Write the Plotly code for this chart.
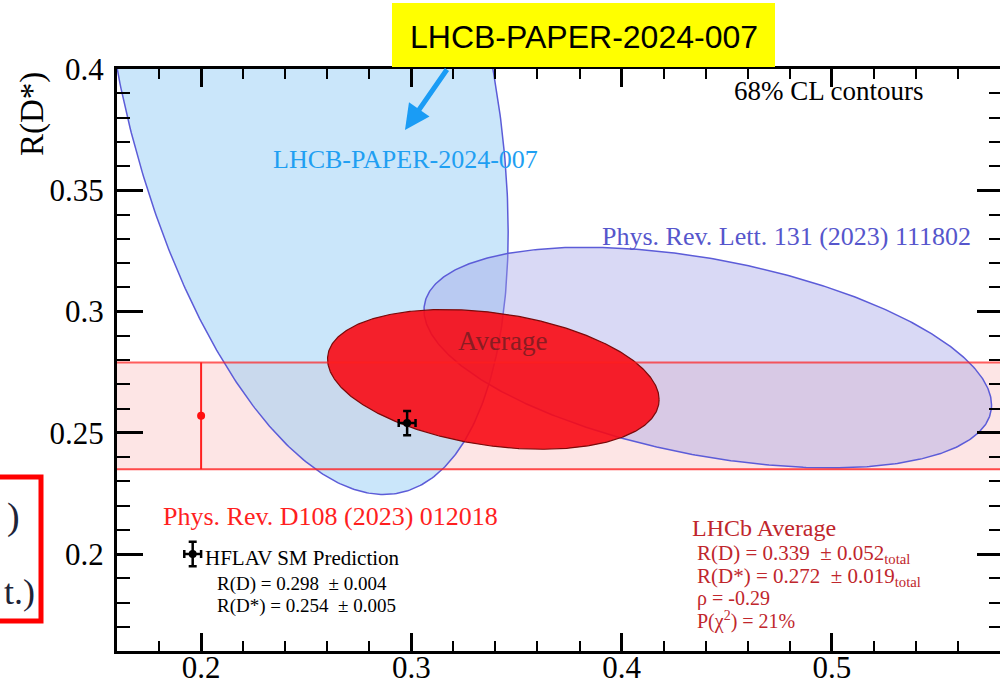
import numpy as np
import plotly.graph_objects as go

# ---- measurements: R(D), R(D*), total uncertainties and correlation ----
labels = ["LHCB-PAPER-2024-007", "Phys. Rev. Lett. 131 (2023) 111802", "Average"]
rd_val = [0.249, 0.441, 0.339]
rd_err = [0.064, 0.089, 0.052]
rds_val = [0.402, 0.281, 0.272]
rds_err = [0.117, 0.030, 0.019]
corr = [-0.39, -0.43, -0.29]

# R(D*)-only measurement, Phys. Rev. D108 (2023) 012018
band_rds = 0.257
band_err = 0.022
band_marker_rd = 0.2

# HFLAV Standard Model prediction
sm_rd, sm_rd_err = 0.298, 0.004
sm_rds, sm_rds_err = 0.254, 0.005
sm_key_rd, sm_key_rds = 0.196, 0.2   # point shown next to the SM text

x_ticks = [0.2, 0.3, 0.4, 0.5]
x_tick_text = ["0.2", "0.3", "0.4", "0.5"]
y_ticks = [0.2, 0.25, 0.3, 0.35, 0.4]
y_tick_text = ["0.2", "0.25", "0.3", "0.35", "0.4"]

X_RANGE = [0.16, 0.58]
Y_RANGE = [0.16, 0.40]

# 68% CL for two parameters: delta chi2 = 2.30
K68 = np.sqrt(2.30)
theta = np.linspace(0, 2 * np.pi, 600)


def contour(mx, sx, my, sy, r):
    x = mx + K68 * sx * np.cos(theta)
    y = my + K68 * sy * (r * np.cos(theta) + np.sqrt(1 - r * r) * np.sin(theta))
    return x, y


# page geometry
W, H = 1000, 688
ML, MR, MT, MB = 117, 0, 69, 37
PW, PH = W - ML - MR, H - MT - MB


def px(x):
    return (x - ML) / PW


def py(y):
    return (H - MB - y) / PH


SERIF = "Liberation Serif"
fills = ["rgba(150,205,245,0.5)", "rgba(160,160,230,0.4)", "rgba(248,10,20,0.9)"]
edges = ["#5c5cd8", "#5c5cd8", "#7a0a0a"]
edge_w = [1.5, 1.5, 1.2]

fig = go.Figure()

for i in range(3):
    ex, ey = contour(rd_val[i], rd_err[i], rds_val[i], rds_err[i], corr[i])
    fig.add_trace(go.Scatter(
        x=ex, y=ey, mode="lines", fill="toself", fillcolor=fills[i],
        line=dict(color=edges[i], width=edge_w[i]), name=labels[i],
        showlegend=False, hoverinfo="skip"))

# error bar of the R(D*)-only measurement
fig.add_trace(go.Scatter(
    x=[band_marker_rd], y=[band_rds], mode="markers",
    marker=dict(color="#ff1010", size=8),
    error_y=dict(type="data", array=[band_err], color="#ff2020", thickness=2, width=0),
    showlegend=False, hoverinfo="skip"))

# SM prediction point and its key
for xv, yv in [(sm_rd, sm_rds), (sm_key_rd, sm_key_rds)]:
    fig.add_trace(go.Scatter(
        x=[xv], y=[yv], mode="markers",
        marker=dict(color="black", size=8),
        error_x=dict(type="data", array=[sm_rd_err], color="black", thickness=2.5, width=4),
        error_y=dict(type="data", array=[sm_rds_err], color="black", thickness=2.5, width=4),
        showlegend=False, hoverinfo="skip"))

# right-hand tick axis
fig.add_trace(go.Scatter(x=[None], y=[None], yaxis="y2", showlegend=False, hoverinfo="skip"))

shapes = [
    # R(D*)-only band
    dict(type="rect", xref="x domain", yref="y", x0=0, x1=1,
         y0=band_rds - band_err, y1=band_rds + band_err,
         fillcolor="rgba(250,170,170,0.3)", line=dict(width=0), layer="below"),
    dict(type="line", xref="x domain", yref="y", x0=0, x1=1,
         y0=band_rds + band_err, y1=band_rds + band_err,
         line=dict(color="rgba(255,30,30,0.7)", width=2), layer="above"),
    dict(type="line", xref="x domain", yref="y", x0=0, x1=1,
         y0=band_rds - band_err, y1=band_rds - band_err,
         line=dict(color="rgba(255,30,30,0.8)", width=2), layer="above"),
    # yellow title box
    dict(type="rect", xref="paper", yref="paper", x0=px(392), x1=px(775),
         y0=py(67), y1=py(3), fillcolor="#ffff00", line=dict(width=0), layer="above"),
    # red frame at the left edge
    dict(type="rect", xref="paper", yref="paper", x0=px(-12), x1=px(41),
         y0=py(621), y1=py(477), fillcolor="rgba(0,0,0,0)",
         line=dict(color="#ff0000", width=5), layer="above"),
]


def note(text, x, y, size, color, anchor="center", font=SERIF, **kw):
    return dict(text=text, x=px(x), y=py(y), xref="paper", yref="paper",
                xanchor=anchor, yanchor="middle", showarrow=False,
                font=dict(family=font, size=size, color=color), **kw)


NB = "\u00a0"
annotations = [
    note("68% CL contours", 828, 91, 27, "black"),
    note(labels[0], 405, 159, 26, "#1f9ff2"),
    note(labels[1], 786, 237, 26, "#5656cc"),
    note(labels[2], 502, 341, 27, "#8a1c22"),
    note("Phys. Rev. D108 (2023) 012018", 330, 516, 26, "#ff1f1f"),
    note("HFLAV SM Prediction", 203, 558, 21, "black", anchor="left"),
    note(f"R(D) = {sm_rd:.3f}{NB}{NB}\u00b1 {sm_rd_err:.3f}", 215, 584, 19, "black", anchor="left"),
    note(f"R(D*) = {sm_rds:.3f}{NB}{NB}\u00b1 {sm_rds_err:.3f}", 215, 606, 19, "black", anchor="left"),
    note("LHCb Average", 690, 528, 24, "#c0262c", anchor="left"),
    note(f"R(D) = {rd_val[2]:.3f}{NB}{NB}\u00b1 {rd_err[2]:.3f}<sub>total</sub>", 695, 554, 21, "#c0262c", anchor="left"),
    note(f"R(D*) = {rds_val[2]:.3f}{NB}{NB}\u00b1 {rds_err[2]:.3f}<sub>total</sub>", 695, 577, 21, "#c0262c", anchor="left"),
    note(f"\u03c1 = {corr[2]:.2f}", 695, 598, 20, "#c0262c", anchor="left"),
    note("P(\u03c7<sup>2</sup>) = 21%", 695, 620, 20, "#c0262c", anchor="left"),
    note("R(D*)", 33, 114, 33, "black", textangle=-90),
    note("LHCB-PAPER-2024-007", 584, 37, 32, "black", font="Liberation Sans"),
    note(")", 22, 516, 38, "#1e2438", anchor="right"),
    note("t.)", 37, 592, 36, "#1e2438", anchor="right"),
    # arrow from the title box to the contour label
    dict(x=px(405), y=py(130), xref="paper", yref="paper", text="", showarrow=True,
         ax=43, ay=-62, arrowhead=2, arrowsize=1, arrowwidth=5, arrowcolor="#1a9cf5"),
]

tickfont = dict(family=SERIF, size=31, color="black")
fig.update_layout(
    width=W, height=H,
    margin=dict(l=ML, r=MR, t=MT, b=MB, pad=0, autoexpand=False),
    paper_bgcolor="white", plot_bgcolor="white",
    showlegend=False,
    shapes=shapes, annotations=annotations,
    xaxis=dict(range=X_RANGE, tickmode="array", tickvals=x_ticks, ticktext=x_tick_text,
               ticks="inside", ticklen=18, tickwidth=3, tickcolor="black",
               showline=True, linewidth=3, linecolor="black", mirror="ticks",
               minor=dict(tickmode="linear", tick0=0.16, dtick=0.02, ticks="inside",
                          ticklen=10, tickwidth=2, tickcolor="black"),
               showgrid=False, zeroline=False, tickfont=tickfont, ticklabelstandoff=-13,
               automargin=False),
    yaxis=dict(range=Y_RANGE, tickmode="array", tickvals=y_ticks, ticktext=y_tick_text,
               ticks="inside", ticklen=26, tickwidth=3, tickcolor="black",
               showline=True, linewidth=3, linecolor="black",
               minor=dict(tickmode="linear", tick0=0.16, dtick=0.01, ticks="inside",
                          ticklen=13, tickwidth=2, tickcolor="black"),
               showgrid=False, zeroline=False, tickfont=tickfont, ticklabelstandoff=4,
               automargin=False),
    yaxis2=dict(range=Y_RANGE, overlaying="y", side="right", tickmode="array",
                tickvals=y_ticks, showticklabels=False,
                ticks="inside", ticklen=23, tickwidth=3, tickcolor="black",
                minor=dict(tickmode="linear", tick0=0.16, dtick=0.01, ticks="inside",
                           ticklen=11, tickwidth=2, tickcolor="black"),
                showline=False, showgrid=False, zeroline=False, automargin=False),
)

fig.write_html("out.html")
